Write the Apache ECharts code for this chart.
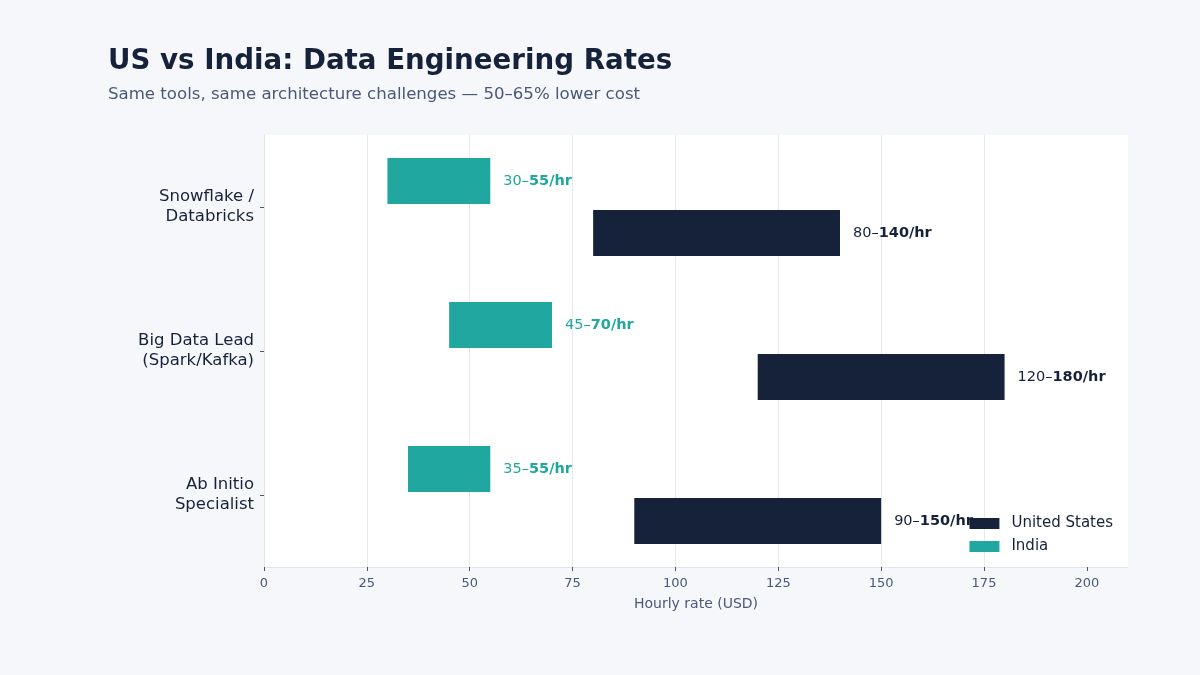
<!DOCTYPE html>
<html>
<head>
<meta charset="utf-8">
<style>
  html, body { margin: 0; padding: 0; background: #f5f7fb; }
  #chart { width: 1200px; height: 675px; }
</style>
<script src="https://cdn.jsdelivr.net/npm/echarts@6/dist/echarts.min.js"></script>
</head>
<body>
<div id="chart"></div>
<script>
// roles shown on the y axis, top to bottom
const roles = ['Snowflake /\nDatabricks', 'Big Data Lead\n(Spark/Kafka)', 'Ab Initio\nSpecialist'];
const indiaLow = [30, 45, 35];
const indiaHigh = [55, 70, 55];
const usLow = [80, 120, 90];
const usHigh = [140, 180, 150];
const xTicks = [0, 25, 50, 75, 100, 125, 150, 175, 200];

const NAVY = '#16213a';
const TEAL = '#1fa7a0';
const FONT = 'DejaVu Sans';

const chart = echarts.init(document.getElementById('chart'));

function span(lo, hi) {
  return hi.map(function (h, i) { return h - lo[i]; });
}

function rangeLabel(lo, hi, color) {
  return {
    show: true,
    position: 'right',
    distance: 13,
    fontFamily: FONT,
    formatter: function (p) {
      const i = p.dataIndex;
      return '{a|' + lo[i] + '–}{b|' + hi[i] + '/hr}';
    },
    rich: {
      a: { color: color, fontSize: 14.5, fontFamily: FONT },
      b: { color: color, fontSize: 14.5, fontWeight: 'bold', fontFamily: FONT }
    }
  };
}

const option = {
  backgroundColor: '#f5f7fb',
  animation: false,
  title: {
    text: 'US vs India: Data Engineering Rates',
    subtext: 'Same tools, same architecture challenges — 50–65% lower cost',
    left: 103,
    top: 43,
    itemGap: 10,
    textStyle: { color: NAVY, fontSize: 27.7, fontWeight: 'bold', fontFamily: FONT },
    subtextStyle: { color: '#4a5878', fontSize: 16.6, fontFamily: FONT }
  },
  legend: {
    data: ['United States', 'India'],
    orient: 'vertical',
    right: 82,
    top: 511,
    icon: 'rect',
    itemWidth: 30,
    itemHeight: 11,
    itemGap: 8,
    textStyle: { color: NAVY, fontSize: 15, fontFamily: FONT, padding: [0, 0, 0, 7] }
  },
  grid: {
    left: 264,
    right: 72,
    top: 135,
    bottom: 108,
    show: true,
    backgroundColor: '#ffffff',
    borderWidth: 0
  },
  xAxis: {
    type: 'value',
    min: 0,
    max: 210,
    interval: 25,
    name: 'Hourly rate (USD)',
    nameLocation: 'middle',
    nameGap: 30,
    nameTextStyle: { color: '#4a5878', fontSize: 14, fontFamily: FONT },
    axisLine: { show: true, lineStyle: { color: '#dfe3eb' } },
    axisTick: { show: true, length: 4, customValues: xTicks, lineStyle: { color: '#4a5878' } },
    axisLabel: {
      color: '#4a5878', fontSize: 13, fontFamily: FONT, margin: 10,
      customValues: xTicks
    },
    splitLine: { show: true, showMaxLine: false, lineStyle: { color: '#e6e9ef' } }
  },
  yAxis: {
    type: 'category',
    data: roles,
    inverse: true,
    axisLine: { show: true, lineStyle: { color: '#dfe3eb' } },
    axisTick: { show: true, length: 4, alignWithLabel: true, lineStyle: { color: '#4a5878' } },
    axisLabel: { color: NAVY, fontSize: 16.5, fontFamily: FONT, margin: 10, lineHeight: 20, align: 'right' }
  },
  series: [
    {
      name: 'inBase', type: 'bar', stack: 'in', silent: true,
      barWidth: 46, barGap: '13%',
      itemStyle: { color: 'transparent' },
      data: indiaLow
    },
    {
      name: 'India', type: 'bar', stack: 'in',
      barWidth: 46, barGap: '13%',
      itemStyle: { color: TEAL },
      label: rangeLabel(indiaLow, indiaHigh, TEAL),
      data: span(indiaLow, indiaHigh)
    },
    {
      name: 'usBase', type: 'bar', stack: 'us', silent: true,
      barWidth: 46, barGap: '13%',
      itemStyle: { color: 'transparent' },
      data: usLow
    },
    {
      name: 'United States', type: 'bar', stack: 'us',
      barWidth: 46, barGap: '13%',
      itemStyle: { color: NAVY },
      label: rangeLabel(usLow, usHigh, NAVY),
      data: span(usLow, usHigh)
    }
  ]
};

chart.setOption(option);
</script>
</body>
</html>
